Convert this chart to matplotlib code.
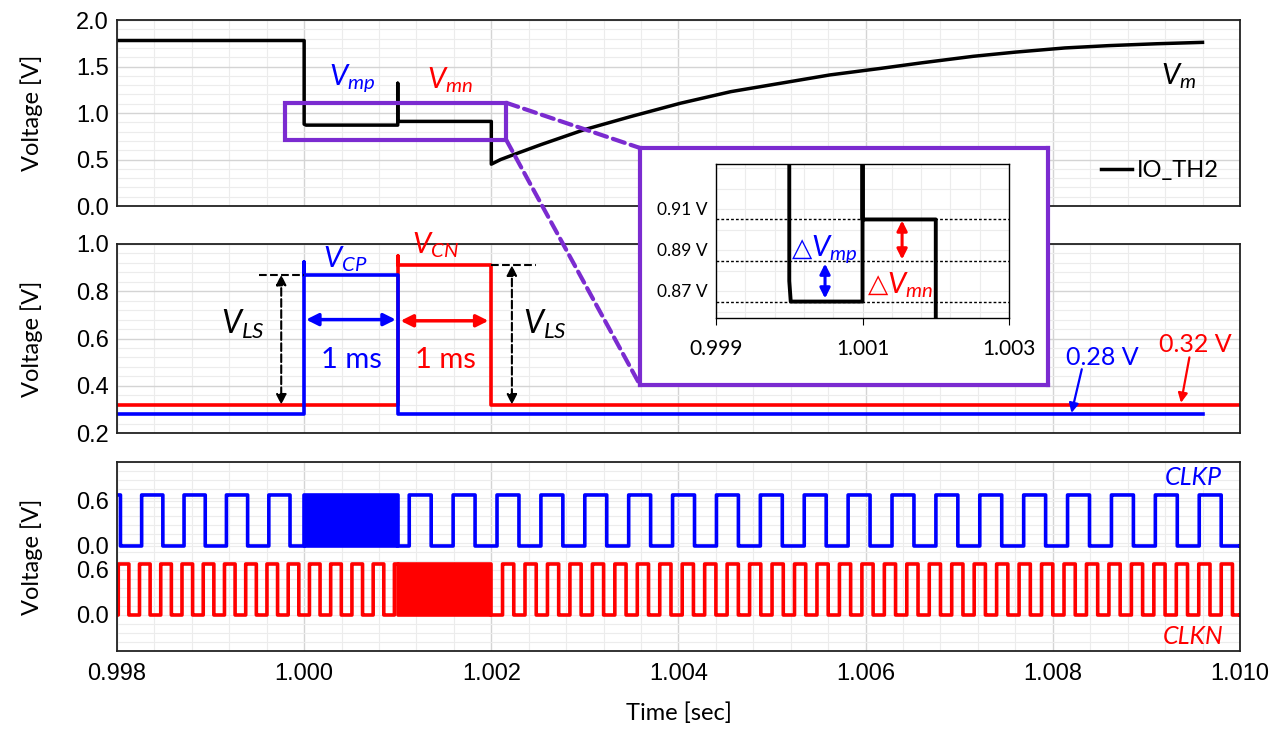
import numpy as np
import matplotlib
matplotlib.use("Agg")
import matplotlib.pyplot as plt
from matplotlib.ticker import MultipleLocator, FixedLocator, NullFormatter, FormatStrFormatter
from matplotlib.patches import Rectangle, ConnectionPatch

plt.rcParams['font.family'] = ['Lato', 'DejaVu Sans']
plt.rcParams['mathtext.fontset'] = 'custom'
plt.rcParams['mathtext.it'] = 'Lato:italic'
plt.rcParams['mathtext.rm'] = 'Lato'
plt.rcParams['mathtext.bf'] = 'Lato:bold'

BLUE = '#0000FF'
RED = '#FF0000'
PURPLE = '#7B2BD0'

# Vm (IO_TH2), top panel
vm_t = [0.998, 1.000, 1.000, 1.00002, 1.001, 1.001, 1.001, 1.002, 1.002,
        1.0021, 1.00224, 1.00253, 1.00299, 1.00349, 1.00402, 1.00456, 1.00509,
        1.00562, 1.00616, 1.0066, 1.00715, 1.0076, 1.00813, 1.0086, 1.00911, 1.0096]
vm_v = [1.78, 1.78, 0.88, 0.87, 0.87, 1.32, 0.91, 0.91, 0.45,
        0.50, 0.553, 0.66, 0.82, 0.962, 1.105, 1.23, 1.32,
        1.41, 1.48, 1.54, 1.61, 1.655, 1.70, 1.725, 1.745, 1.76]

# V_CP / V_CN, middle panel
vcp_t = [0.998, 1.000, 1.000, 1.000, 1.001, 1.001, 1.0096]
vcp_v = [0.28, 0.28, 0.925, 0.87, 0.87, 0.28, 0.28]
vcn_t = [0.998, 1.001, 1.001, 1.001, 1.002, 1.002, 1.010]
vcn_v = [0.32, 0.32, 0.95, 0.91, 0.91, 0.32, 0.32]

# clocks, bottom panel: (start, end, period, first rising edge)
clkp_segments = [(0.998, 1.000, 0.000453, 0.998263), (1.001, 1.010, 0.000469, 1.001123)]
clkp_burst = (1.000, 1.001)
clkn_segments = [(0.998, 1.001, 0.000227, 0.998240), (1.002, 1.010, 0.000240, 1.002120)]
clkn_burst = (1.001, 1.002)
clk_high = 0.68
clkp_offset = 0.92

x_ticks = [0.998, 1.000, 1.002, 1.004, 1.006, 1.008, 1.010]
x_labels = ['0.998', '1.000', '1.002', '1.004', '1.006', '1.008', '1.010']
inset_levels = [0.87, 0.89, 0.91]
inset_labels = ['0.87 V', '0.89 V', '0.91 V']
inset_xticks = [0.999, 1.001, 1.003]


def square_wave(t0, t1, period, rise0):
    t = np.arange(t0, t1, 5e-7)
    t = np.append(t, t1)
    v = np.where(((t - rise0) % period) < period / 2, clk_high, 0.0)
    return t, v


def style_axes(ax, ymajor, yminor):
    ax.set_xlim(0.998, 1.010)
    ax.xaxis.set_major_locator(FixedLocator(x_ticks))
    ax.xaxis.set_minor_locator(MultipleLocator(0.0004))
    if ymajor is not None:
        ax.yaxis.set_major_locator(MultipleLocator(ymajor))
    ax.yaxis.set_minor_locator(MultipleLocator(yminor))
    ax.grid(which='major', color='#d4d4d4', lw=1.0)
    ax.grid(which='minor', color='#ececec', lw=0.8)
    ax.set_axisbelow(True)
    ax.tick_params(which='both', length=0, labelsize=17, pad=6)
    for lab in ax.get_yticklabels():
        lab.set_fontfamily('Liberation Sans')
    for s in ax.spines.values():
        s.set_color('#222222')
        s.set_linewidth(1.3)
    ax.set_ylabel('Voltage [V]', fontsize=17)


fig = plt.figure(figsize=(12.8, 7.29), dpi=100)
ax_top = fig.add_axes([0.0914, 0.7174, 0.8773, 0.2551])
ax_mid = fig.add_axes([0.0914, 0.4060, 0.8773, 0.2593])
ax_bot = fig.add_axes([0.0914, 0.1070, 0.8773, 0.2593])

# ---- top panel
ax_top.plot(vm_t, vm_v, color='black', lw=2.5, label='IO_TH2')
ax_top.set_ylim(0, 2.0)
style_axes(ax_top, 0.5, 0.1)
ax_top.yaxis.set_major_formatter(FormatStrFormatter('%.1f'))
ax_top.xaxis.set_major_formatter(NullFormatter())
ax_top.add_patch(Rectangle((0.9998, 0.71), 0.00236, 0.40, fill=False,
                           edgecolor=PURPLE, lw=3, zorder=5))
ax_top.text(1.00051, 1.38, r'$V_{mp}$', color=BLUE, fontsize=21, ha='center', va='center')
ax_top.text(1.00156, 1.35, r'$V_{mn}$', color=RED, fontsize=21, ha='center', va='center')
ax_top.text(1.00935, 1.40, r'$V_{m}$', color='black', fontsize=21, ha='center', va='center')
leg = ax_top.legend(loc='lower right', bbox_to_anchor=(1.0, 0.02), frameon=False,
                    handlelength=1.3, handletextpad=0.2, fontsize=17)

# ---- middle panel
ax_mid.plot(vcn_t, vcn_v, color=RED, lw=2.6)
ax_mid.plot(vcp_t, vcp_v, color=BLUE, lw=2.6)
ax_mid.set_ylim(0.2, 1.0)
style_axes(ax_mid, 0.2, 0.04)
ax_mid.yaxis.set_major_formatter(FormatStrFormatter('%.1f'))
ax_mid.xaxis.set_major_formatter(NullFormatter())

ax_mid.plot([0.99952, 1.000], [0.87, 0.87], color='black', lw=1.5, ls='--')
ax_mid.plot([1.002, 1.002475], [0.91, 0.91], color='black', lw=1.5, ls='--')
ax_mid.annotate('', xy=(0.999755, 0.32), xytext=(0.999755, 0.87),
                arrowprops=dict(arrowstyle='<|-|>', color='black', lw=1.5, ls='--',
                                mutation_scale=15, shrinkA=0, shrinkB=0))
ax_mid.annotate('', xy=(1.00222, 0.32), xytext=(1.00222, 0.91),
                arrowprops=dict(arrowstyle='<|-|>', color='black', lw=1.5, ls='--',
                                mutation_scale=15, shrinkA=0, shrinkB=0))
ax_mid.text(0.99935, 0.66, r'$V_{LS}$', fontsize=23, ha='center', va='center')
ax_mid.text(1.00257, 0.66, r'$V_{LS}$', fontsize=23, ha='center', va='center')

ax_mid.annotate('', xy=(1.00002, 0.68), xytext=(1.00098, 0.68),
                arrowprops=dict(arrowstyle='<|-|>', color=BLUE, lw=2.5,
                                mutation_scale=18, shrinkA=0, shrinkB=0))
ax_mid.annotate('', xy=(1.00103, 0.675), xytext=(1.00197, 0.675),
                arrowprops=dict(arrowstyle='<|-|>', color=RED, lw=2.5,
                                mutation_scale=18, shrinkA=0, shrinkB=0))
ax_mid.text(1.0005, 0.51, '1 ms', color=BLUE, fontsize=21, ha='center', va='center')
ax_mid.text(1.00151, 0.51, '1 ms', color=RED, fontsize=21, ha='center', va='center')
ax_mid.text(1.00044, 0.935, r'$V_{CP}$', color=BLUE, fontsize=21, ha='center', va='center',
            clip_on=False)
ax_mid.text(1.0014, 0.995, r'$V_{CN}$', color=RED, fontsize=21, ha='center', va='center',
            clip_on=False)

ax_mid.text(1.00853, 0.52, '0.28 V', color=BLUE, fontsize=18, ha='center', va='center')
ax_mid.annotate('', xy=(1.0082, 0.285), xytext=(1.00831, 0.47),
                arrowprops=dict(arrowstyle='-|>', color=BLUE, lw=1.6,
                                mutation_scale=14, shrinkA=0, shrinkB=0))
ax_mid.text(1.00952, 0.575, '0.32 V', color=RED, fontsize=18, ha='center', va='center')
ax_mid.annotate('', xy=(1.00937, 0.328), xytext=(1.00946, 0.52),
                arrowprops=dict(arrowstyle='-|>', color=RED, lw=1.6,
                                mutation_scale=14, shrinkA=0, shrinkB=0))

# ---- bottom panel
for seg in clkp_segments:
    t, v = square_wave(*seg)
    ax_bot.plot(t, v + clkp_offset, color=BLUE, lw=2.6, drawstyle='steps-post')
ax_bot.fill_between(clkp_burst, clkp_offset, clkp_offset + clk_high, color=BLUE,
                    lw=2.6, edgecolor=BLUE)
for seg in clkn_segments:
    t, v = square_wave(*seg)
    ax_bot.plot(t, v, color=RED, lw=2.6, drawstyle='steps-post')
ax_bot.fill_between(clkn_burst, 0, clk_high, color=RED, lw=2.6, edgecolor=RED)
ax_bot.set_ylim(-0.48, 2.04)
style_axes(ax_bot, None, 0.12)
ax_bot.yaxis.set_major_locator(FixedLocator([0.0, 0.6, clkp_offset, clkp_offset + 0.6]))
ax_bot.set_yticklabels(['0.0', '0.6', '0.0', '0.6'], fontfamily='Liberation Sans')
ax_bot.set_xticklabels(x_labels, fontfamily='Liberation Sans')
ax_bot.tick_params(axis='x', pad=9)
ax_bot.grid(which='major', axis='y', color='#ececec', lw=0.8)
ax_bot.set_xlabel('Time [sec]', fontsize=17, labelpad=12)
ax_bot.text(1.0095, 1.83, 'CLKP', color=BLUE, fontsize=18, style='italic',
            ha='center', va='center')
ax_bot.text(1.0095, -0.29, 'CLKN', color=RED, fontsize=18, style='italic',
            ha='center', va='center')

for ax in (ax_top, ax_mid, ax_bot):
    ax.yaxis.set_label_coords(-0.066, 0.5)

# ---- zoom inset
frame = fig.add_axes([0.5, 0.4719, 0.3188, 0.3251])
frame.set_xticks([])
frame.set_yticks([])
frame.set_facecolor('white')
for s in frame.spines.values():
    s.set_color(PURPLE)
    s.set_linewidth(3)

ins = fig.add_axes([0.5594, 0.5638, 0.2289, 0.2112])
ins.plot(vm_t, vm_v, color='black', lw=2.8)
ins.set_xlim(0.999, 1.003)
ins.set_ylim(0.862, 0.937)
ins.set_xticks(inset_xticks)
ins.set_xticklabels(['0.999', '1.001', '1.003'], fontsize=15)
ins.xaxis.set_minor_locator(FixedLocator(np.arange(0.999, 1.0031, 0.0004)))
ins.yaxis.set_minor_locator(FixedLocator(np.arange(0.865, 0.937, 0.01)))
ins.set_yticks([])
ins.grid(which='minor', color='#ececec', lw=0.8)
ins.grid(which='major', axis='x', color='#dddddd', lw=0.8)
ins.set_axisbelow(True)
ins.tick_params(axis='x', which='major', length=5, direction='out', pad=10)
ins.tick_params(which='minor', length=0)
for s in ins.spines.values():
    s.set_linewidth(1.0)
for lev, lab in zip(inset_levels, inset_labels):
    ins.axhline(lev, color='black', lw=1.0, ls=(0, (2, 1.5)))
    ins.text(-0.03, lev + 0.0045, lab, transform=ins.get_yaxis_transform(),
             fontsize=12.5, ha='right', va='center')
ins.annotate('', xy=(1.000488, 0.8715), xytext=(1.000488, 0.8885),
             arrowprops=dict(arrowstyle='<|-|>', color=BLUE, lw=2.2,
                             mutation_scale=15, shrinkA=0, shrinkB=0))
ins.annotate('', xy=(1.00154, 0.8905), xytext=(1.00154, 0.9095),
             arrowprops=dict(arrowstyle='<|-|>', color=RED, lw=2.2,
                             mutation_scale=15, shrinkA=0, shrinkB=0))
# delta labels: triangle from DejaVu, V from mathtext
ins.text(1.00031, 0.8955, '\u25b3', color=BLUE, fontsize=19, family='DejaVu Sans',
         ha='right', va='center')
ins.text(1.00029, 0.8955, r'$V_{mp}$', color=BLUE, fontsize=21, ha='left', va='center')
ins.text(1.00135, 0.878, '\u25b3', color=RED, fontsize=19, family='DejaVu Sans',
         ha='right', va='center')
ins.text(1.00133, 0.878, r'$V_{mn}$', color=RED, fontsize=21, ha='left', va='center')

# dashed connectors from zoom box to inset frame
for ya, yb in ((1.11, 1.0), (0.71, 0.0)):
    con = ConnectionPatch(xyA=(1.00216, ya), coordsA=ax_top.transData,
                          xyB=(0.0, yb), coordsB=frame.transAxes,
                          color=PURPLE, lw=3, ls=(0, (3, 1.5)))
    fig.add_artist(con)

fig.savefig('out.png', dpi=100)
